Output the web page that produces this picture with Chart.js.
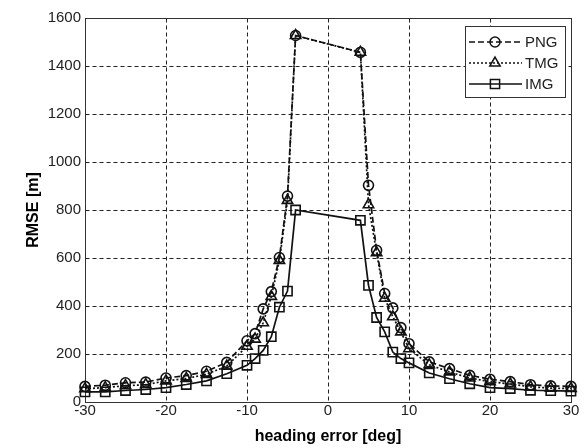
<!DOCTYPE html>
<html>
<head>
<meta charset="utf-8">
<title>RMSE vs heading error</title>
<script src="https://cdn.jsdelivr.net/npm/chart.js@4.4.0/dist/chart.umd.min.js"></script>
<style>
  html, body { margin: 0; padding: 0; background: #fff; }
  #wrap { width: 588px; height: 448px; position: relative; }
</style>
</head>
<body>
<div id="wrap"><canvas id="rmse"></canvas></div>
<script>
/* ── data: RMSE [m] per heading error [deg] ── */
const HEADING = [-30, -27.5, -25, -22.5, -20, -17.5, -15, -12.5, -10, -9, -8, -7, -6, -5, -4,
                 4, 5, 6, 7, 8, 9, 10, 12.5, 15, 17.5, 20, 22.5, 25, 27.5, 30];
const RMSE_PNG = [65, 70, 80, 83, 100, 110, 128, 165, 255, 285, 388, 460, 602, 858, 1527,
                  1457, 903, 632, 452, 392, 310, 243, 167, 139, 111, 95, 85, 72, 67, 65];
const RMSE_TMG = [55, 60, 68, 72, 88, 98, 115, 150, 232, 262, 330, 440, 590, 840, 1527,
                  1457, 822, 622, 432, 355, 292, 222, 155, 125, 100, 85, 75, 63, 58, 56];
const RMSE_IMG = [42, 42, 48, 52, 60, 73, 88, 118, 153, 181, 215, 272, 395, 462, 800,
                  757, 486, 352, 292, 208, 181, 163, 121, 97, 76, 60, 56, 49, 47, 45];
const SERIES = ['PNG', 'TMG', 'IMG'];
const X_TICKS = [-30, -20, -10, 0, 10, 20, 30];
const Y_TICKS = [0, 200, 400, 600, 800, 1000, 1200, 1400, 1600];

const FONT = '"Liberation Sans", Arial, sans-serif';
const INK = '#111';

const pts = ys => HEADING.map((x, i) => ({ x, y: ys[i] }));

function line(label, ys, style, radius, dash) {
  return {
    label, data: pts(ys),
    borderColor: INK, borderWidth: 1.7, borderDash: dash,
    pointStyle: style, pointRadius: radius, pointBorderWidth: 1.6,
    pointBorderColor: INK, pointBackgroundColor: 'rgba(0,0,0,0)',
    fill: false, tension: 0, clip: false
  };
}

/* dashed grid at the scale ticks + axes box, drawn under the series */
const frame = {
  id: 'frame',
  beforeDatasetsDraw(chart) {
    const { ctx, chartArea: a, scales: { x, y } } = chart;
    const L = Math.round(a.left) + 0.5, R = Math.round(a.right) + 0.5;
    const T = Math.round(a.top) + 0.5, B = Math.round(a.bottom) + 0.5;
    ctx.save();
    ctx.strokeStyle = '#222';
    ctx.lineWidth = 1;
    ctx.setLineDash([4, 3]);
    ctx.beginPath();
    x.ticks.forEach(t => {
      const px = Math.round(x.getPixelForValue(t.value)) + 0.5;
      ctx.moveTo(px, T); ctx.lineTo(px, B);
    });
    y.ticks.forEach(t => {
      const py = Math.round(y.getPixelForValue(t.value)) + 0.5;
      ctx.moveTo(L, py); ctx.lineTo(R, py);
    });
    ctx.stroke();
    ctx.setLineDash([]);
    ctx.strokeStyle = '#333';
    ctx.strokeRect(L, T, R - L, B - T);
    ctx.restore();
  }
};

function marker(ctx, style, x, y, r) {
  ctx.beginPath();
  if (style === 'circle') {
    ctx.arc(x, y, r, 0, Math.PI * 2);
  } else if (style === 'triangle') {
    for (let k = 0; k < 3; k++) {
      const a = -Math.PI / 2 + k * 2 * Math.PI / 3;
      k ? ctx.lineTo(x + r * Math.cos(a), y + r * Math.sin(a)) : ctx.moveTo(x + r * Math.cos(a), y + r * Math.sin(a));
    }
    ctx.closePath();
  } else {
    const s = r * Math.SQRT1_2;
    ctx.rect(x - s, y - s, 2 * s, 2 * s);
  }
  ctx.stroke();
}

/* boxed legend in the upper right corner of the axes */
const boxLegend = {
  id: 'boxLegend',
  afterDatasetsDraw(chart) {
    const { ctx } = chart;
    const bx = 465, by = 26, bw = 100, bh = 71;
    ctx.save();
    ctx.fillStyle = '#fff';
    ctx.fillRect(bx, by, bw, bh);
    ctx.strokeStyle = '#333';
    ctx.lineWidth = 1;
    ctx.strokeRect(bx + 0.5, by + 0.5, bw, bh);
    chart.data.datasets.forEach((ds, i) => {
      const y = by + 16 + i * 21;
      ctx.strokeStyle = INK;
      ctx.lineWidth = 1.7;
      ctx.setLineDash(ds.borderDash || []);
      ctx.beginPath();
      ctx.moveTo(bx + 4, y);
      ctx.lineTo(bx + 57, y);
      ctx.stroke();
      ctx.setLineDash([]);
      ctx.lineWidth = 1.5;
      marker(ctx, ds.pointStyle, bx + 30, y, ds.pointRadius);
      ctx.fillStyle = '#222';
      ctx.font = '15px ' + FONT;
      ctx.textBaseline = 'middle';
      ctx.textAlign = 'left';
      ctx.fillText(ds.label, bx + 60, y + 1);
    });
    ctx.restore();
  }
};

const axisCommon = {
  type: 'linear',
  grid: { display: false, drawTicks: false },
  border: { display: false },
};

new Chart(document.getElementById('rmse'), {
  type: 'line',
  data: {
    datasets: [
      line(SERIES[0], RMSE_PNG, 'circle', 5, [6, 3]),
      line(SERIES[1], RMSE_TMG, 'triangle', 6, [2, 2]),
      line(SERIES[2], RMSE_IMG, 'rect', 6.5, [])
    ]
  },
  options: {
    responsive: true, maintainAspectRatio: false, animation: false,
    layout: { padding: { left: 0, right: 17, top: 18, bottom: 0 } },
    plugins: { legend: { display: false }, tooltip: { enabled: false } },
    scales: {
      x: {
        ...axisCommon,
        min: -30, max: 30,
        afterBuildTicks: s => { s.ticks = X_TICKS.map(v => ({ value: v })); },
        afterFit: s => { s.height = 46; },
        ticks: { color: '#222', font: { family: FONT, size: 15 }, padding: 0, callback: v => String(v) },
        title: { display: true, text: 'heading error [deg]', color: '#000',
                 font: { family: FONT, size: 16, weight: 'bold' }, padding: { top: 0, bottom: 2 } }
      },
      y: {
        ...axisCommon,
        min: 0, max: 1600,
        afterBuildTicks: s => { s.ticks = Y_TICKS.map(v => ({ value: v })); },
        afterFit: s => { s.width = 85; },
        ticks: { color: '#222', font: { family: FONT, size: 15 }, padding: 4, callback: v => String(v) },
        title: { display: true, text: 'RMSE [m]', color: '#000',
                 font: { family: FONT, size: 16, weight: 'bold' }, padding: { top: 24, bottom: 0 } }
      }
    }
  },
  plugins: [frame, boxLegend]
});
</script>
</body>
</html>
